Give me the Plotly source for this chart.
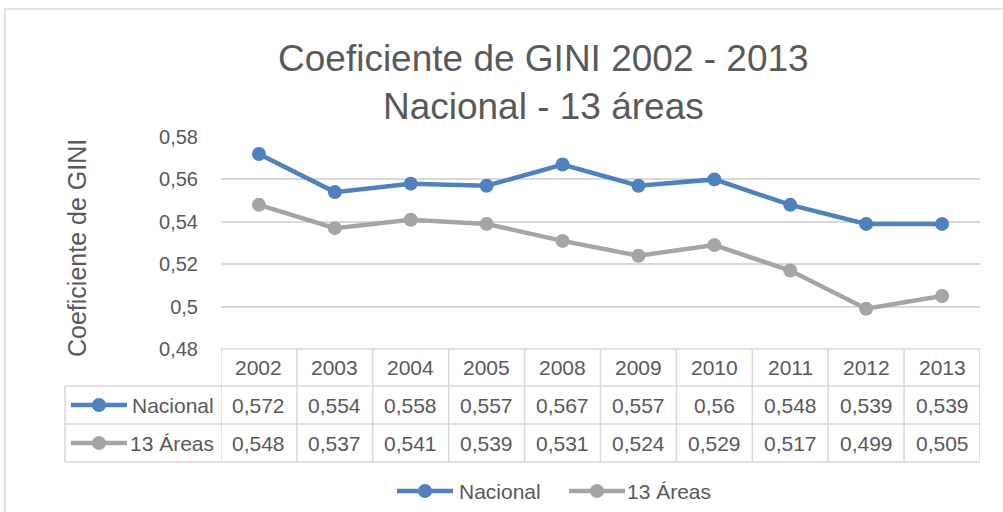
import plotly.graph_objects as go

years = ["2002", "2003", "2004", "2005", "2008", "2009", "2010", "2011", "2012", "2013"]
nacional = [0.572, 0.554, 0.558, 0.557, 0.567, 0.557, 0.56, 0.548, 0.539, 0.539]
areas13 = [0.548, 0.537, 0.541, 0.539, 0.531, 0.524, 0.529, 0.517, 0.499, 0.505]
series_names = ["Nacional", "13 Áreas"]
y_ticks = [0.48, 0.5, 0.52, 0.54, 0.56, 0.58]
y_ticklabels = ["0,48", "0,5", "0,52", "0,54", "0,56", "0,58"]

W, H = 1003, 512
BLUE = "#4f81bd"
GRAY = "#a5a5a5"
TXT = "#595959"
LINE = "#d9d9d9"
FONT = "Liberation Sans"


def px(x):
    return x / W


def py(y):
    return 1 - y / H


def fmt(v):
    s = f"{v:.3f}".rstrip("0").rstrip(".")
    return s.replace(".", ",")


PL, PR, PT, PB = 221, 980, 137, 349
colors = [BLUE, GRAY]
series = [nacional, areas13]

fig = go.Figure()
for name, vals, col in zip(series_names, series, colors):
    fig.add_trace(go.Scatter(
        x=years, y=vals, name=name, mode="lines+markers",
        line=dict(color=col, width=4.5),
        marker=dict(color=col, size=14),
        showlegend=False,
    ))

shapes = []
annotations = []

# Outer chart border
shapes.append(dict(type="rect", xref="paper", yref="paper",
                   x0=px(5), x1=px(1012), y0=py(9), y1=py(520),
                   line=dict(color=LINE, width=1.5)))

# Data table
ROW_TOP, ROW1, ROW2, ROW_BOT = 349, 386, 424, 462
TBL_L = 65
shapes.append(dict(type="line", xref="x", yref="paper", x0=-0.5, x1=len(years) - 0.5,
                   y0=py(ROW_TOP), y1=py(ROW_TOP), line=dict(color=LINE, width=1.5)))
for yy in (ROW1, ROW2, ROW_BOT):
    shapes.append(dict(type="line", xref="paper", yref="paper", x0=px(TBL_L), x1=px(PR),
                       y0=py(yy), y1=py(yy), line=dict(color=LINE, width=1.5)))
shapes.append(dict(type="line", xref="paper", yref="paper", x0=px(TBL_L), x1=px(TBL_L),
                   y0=py(ROW1), y1=py(ROW_BOT), line=dict(color=LINE, width=1.5)))
for i in range(len(years) + 1):
    shapes.append(dict(type="line", xref="x", yref="paper", x0=i - 0.5, x1=i - 0.5,
                       y0=py(ROW_TOP), y1=py(ROW_BOT), line=dict(color=LINE, width=1.5)))

TF = dict(size=21, color=TXT, family=FONT)
for i, yr in enumerate(years):
    annotations.append(dict(x=i, xref="x", y=py((ROW_TOP + ROW1) / 2), yref="paper",
                            xanchor="center", yanchor="middle",
                            text=yr, showarrow=False, font=TF))
    for rowc, vals in (((ROW1 + ROW2) / 2, nacional), ((ROW2 + ROW_BOT) / 2, areas13)):
        annotations.append(dict(x=i, xref="x", y=py(rowc), yref="paper",
                                xanchor="center", yanchor="middle",
                                text=fmt(vals[i]), showarrow=False, font=TF))


def legend_key(xc, yc, col, half=28):
    shapes.append(dict(type="line", xref="paper", yref="paper", x0=px(xc - half), x1=px(xc + half),
                       y0=py(yc), y1=py(yc), line=dict(color=col, width=4.5)))
    shapes.append(dict(type="circle", xref="paper", yref="paper",
                       x0=px(xc - 7), x1=px(xc + 7), y0=py(yc - 7), y1=py(yc + 7),
                       fillcolor=col, line=dict(color=col, width=0)))


# Row labels in the table
for rowc, name, col in (((ROW1 + ROW2) / 2, series_names[0], BLUE),
                        ((ROW2 + ROW_BOT) / 2, series_names[1], GRAY)):
    legend_key(99, rowc, col)
    annotations.append(dict(x=px(216), xref="paper", y=py(rowc), yref="paper",
                            text=name, showarrow=False, xanchor="right", yanchor="middle",
                            font=TF))

# Bottom legend
LEG_Y = 491
for (kx, tx), name, col in zip(((425, 457), (597, 625)), series_names, colors):
    legend_key(kx, LEG_Y, col)
    annotations.append(dict(x=px(tx), xref="paper", y=py(LEG_Y), yref="paper",
                            text=name, showarrow=False, xanchor="left", yanchor="middle",
                            font=TF))

# Title
annotations.append(dict(x=px(543), xref="paper", y=py(82), yref="paper",
                        xanchor="center", yanchor="middle",
                        text="Coeficiente de GINI 2002 - 2013<br>Nacional - 13 áreas",
                        showarrow=False, font=dict(size=37, color=TXT, family=FONT)))

# Y axis title
annotations.append(dict(x=px(77), xref="paper", y=py(248), yref="paper",
                        xanchor="center", yanchor="middle",
                        text="Coeficiente de GINI", textangle=-90, showarrow=False,
                        font=dict(size=25, color=TXT, family=FONT)))

fig.update_layout(
    width=W, height=H,
    margin=dict(l=0, r=0, t=0, b=0, autoexpand=False),
    paper_bgcolor="white", plot_bgcolor="white",
    font=dict(family=FONT, color=TXT, size=20),
    xaxis=dict(type="category", domain=[px(PL), px(PR)], range=[-0.5, len(years) - 0.5],
               showticklabels=False, showgrid=False, zeroline=False, showline=False, ticks=""),
    yaxis=dict(domain=[py(PB), py(PT)], range=[0.48, 0.58],
               tickvals=y_ticks, ticktext=y_ticklabels,
               showgrid=True, gridcolor=LINE, gridwidth=1.5,
               zeroline=False, showline=False, ticks="", ticklabelstandoff=22,
               tickfont=dict(size=20, color=TXT, family=FONT)),
    shapes=shapes,
    annotations=annotations,
    showlegend=False,
)

fig.write_html("out.html", config={"displayModeBar": False},
               post_script="document.body.style.margin='0';")
